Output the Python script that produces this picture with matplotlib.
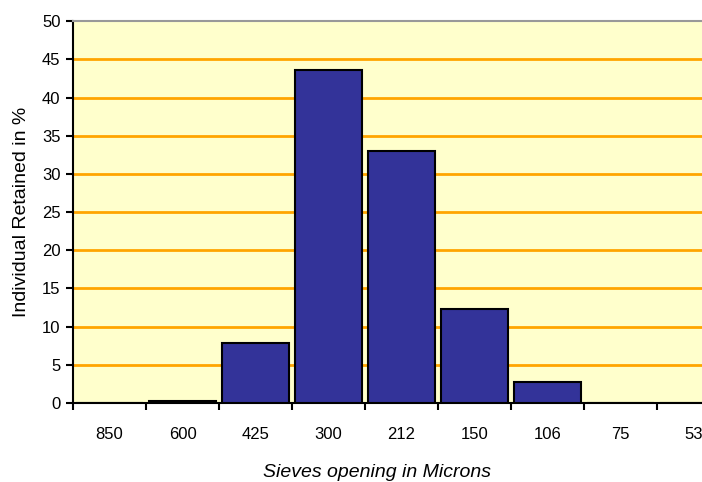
import numpy as np
import matplotlib.pyplot as plt

plt.rcParams['font.family'] = ['Liberation Sans', 'DejaVu Sans']

sieves = ["850", "600", "425", "300", "212", "150", "106", "75", "53"]
retained = [0, 0.3, 7.8, 43.6, 33.0, 12.3, 2.7, 0, 0]

fig = plt.figure(figsize=(7.02, 4.82), dpi=100)
ax = fig.add_axes([0.104, 0.164, 0.936, 0.792])
ax.set_facecolor("#FFFFCC")

x = np.arange(len(sieves))
ax.bar(x, retained, width=0.92, color="#333399", edgecolor="black",
       linewidth=1.5, zorder=3)

ax.set_xlim(-0.5, len(sieves) - 0.5)
ax.set_ylim(0, 50)
ax.set_yticks(np.arange(0, 51, 5))
for yv in range(5, 50, 5):
    ax.axhline(yv, color="#FFA500", linewidth=2, zorder=1)

ax.set_xticks(x)
ax.set_xticklabels(sieves, fontsize=12)
ax.tick_params(axis="x", length=0, pad=17)
ax.set_xticks(np.arange(-0.5, len(sieves), 1), minor=True)
ax.tick_params(axis="x", which="minor", length=5, width=1.5, direction="out")
ax.tick_params(axis="y", length=5, width=1.5, labelsize=12, pad=4)

for side in ["left", "bottom"]:
    ax.spines[side].set_linewidth(1.5)
ax.spines["top"].set_color("#999999")
ax.spines["top"].set_linewidth(1.5)
ax.spines["right"].set_visible(False)

ax.set_ylabel("Individual Retained in %", fontsize=14)
ax.yaxis.set_label_coords(-0.066, 0.5)
ax.set_xlabel("Sieves opening in Microns", fontsize=14, style="italic")
ax.xaxis.set_label_coords(0.463, -0.16)

fig.savefig("out.png", dpi=100)
